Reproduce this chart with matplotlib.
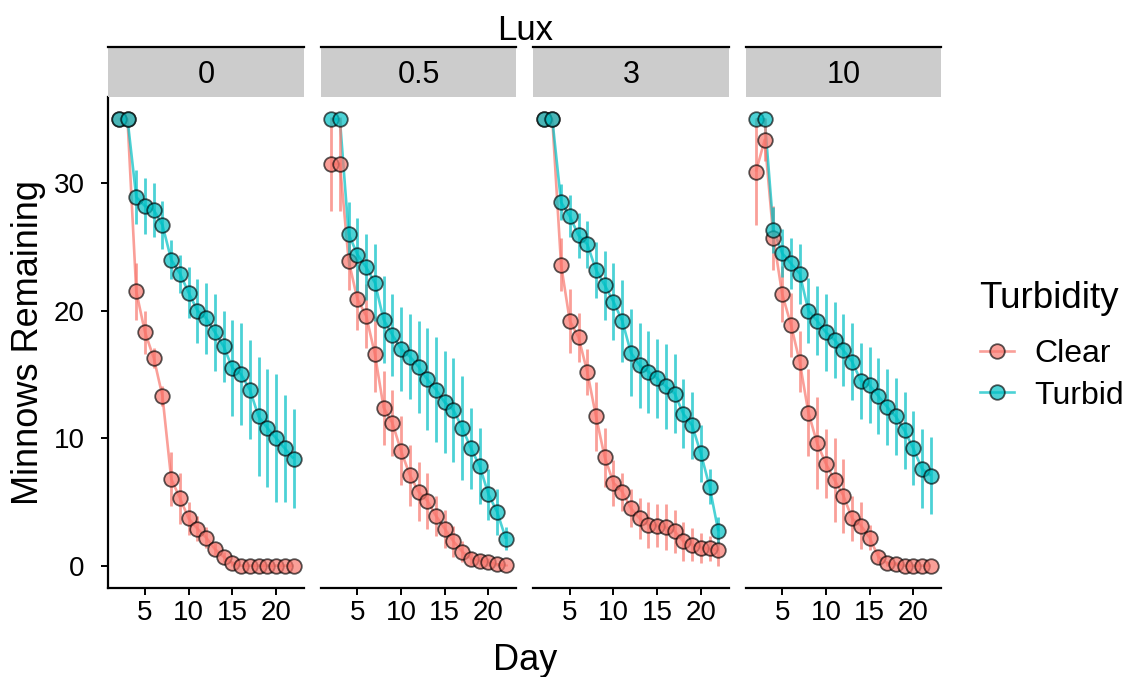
import matplotlib
matplotlib.use('Agg')
import matplotlib.pyplot as plt
from matplotlib.lines import Line2D
from matplotlib.colors import to_rgba

plt.rcParams['font.family'] = ['Liberation Sans', 'DejaVu Sans']

# ---------------- data ----------------
days = list(range(2, 23))
lux_levels = ['0', '0.5', '3', '10']
turbidity = ['Clear', 'Turbid']

clear_0 = [35, 35, 21.5, 18.3, 16.3, 13.3, 6.8, 5.3, 3.7, 2.9, 2.2, 1.3, 0.7, 0.2, 0, 0, 0, 0, 0, 0, 0]
clear_0_se = [0, 0, 2.2, 1.7, 0.8, 0.8, 2.1, 2.0, 1.3, 1.0, 0.8, 0.5, 0.4, 0.2, 0, 0, 0, 0, 0, 0, 0]
turbid_0 = [35, 35, 28.9, 28.2, 27.9, 26.7, 24.0, 22.9, 21.4, 20.0, 19.4, 18.3, 17.2, 15.5, 15.0, 13.8, 11.7, 10.8, 10.0, 9.2, 8.4]
turbid_0_se = [0, 0, 2.1, 2.2, 2.1, 1.9, 1.5, 1.5, 2.0, 2.5, 2.8, 3.0, 2.8, 3.8, 4.0, 3.9, 4.7, 4.6, 5.0, 4.2, 3.9]

clear_05 = [31.5, 31.5, 23.9, 20.9, 19.6, 16.6, 12.4, 11.2, 9.0, 7.1, 5.8, 5.1, 3.9, 2.9, 1.9, 1.1, 0.55, 0.4, 0.3, 0.1, 0.05]
clear_05_se = [3.7, 3.7, 2.3, 2.4, 2.5, 3.0, 2.9, 2.6, 2.7, 2.4, 2.3, 2.2, 1.6, 1.5, 1.2, 0.8, 0.5, 0.4, 0.3, 0.1, 0.05]
turbid_05 = [35, 35, 26.0, 24.4, 23.4, 22.2, 19.3, 18.1, 17.0, 16.4, 15.6, 14.6, 13.8, 12.8, 12.2, 10.8, 9.2, 7.8, 5.6, 4.2, 2.1]
turbid_05_se = [0, 0, 2.5, 2.9, 2.6, 3.0, 3.4, 3.2, 3.3, 3.3, 3.6, 4.0, 4.1, 4.0, 4.1, 4.1, 3.2, 3.0, 2.0, 1.8, 0.9]

clear_3 = [35, 35, 23.6, 19.2, 17.9, 15.2, 11.7, 8.5, 6.5, 5.8, 4.5, 3.7, 3.2, 3.15, 3.0, 2.7, 1.9, 1.65, 1.4, 1.35, 1.2]
clear_3_se = [0, 0, 2.1, 2.5, 1.9, 1.8, 2.7, 2.3, 1.8, 1.5, 1.5, 1.6, 1.8, 1.7, 1.8, 1.7, 1.5, 1.3, 1.2, 1.0, 1.2]
turbid_3 = [35, 35, 28.5, 27.4, 25.9, 25.2, 23.2, 22.0, 20.7, 19.2, 16.7, 15.7, 15.2, 14.7, 14.05, 13.5, 11.9, 11.0, 8.8, 6.2, 2.7]
turbid_3_se = [0, 0, 1.4, 1.65, 1.75, 1.85, 2.2, 2.7, 3.0, 3.2, 3.4, 3.3, 3.2, 3.1, 3.3, 3.1, 2.7, 2.6, 2.2, 1.4, 1.1]

clear_10 = [30.9, 33.4, 25.7, 21.3, 18.9, 16.0, 12.0, 9.6, 8.0, 6.7, 5.5, 3.7, 3.15, 2.2, 0.7, 0.2, 0.15, 0, 0, 0, 0]
clear_10_se = [4.2, 1.7, 2.5, 2.2, 2.5, 2.4, 3.4, 3.6, 2.7, 3.3, 2.9, 1.8, 1.85, 1.0, 0.5, 0.2, 0.15, 0, 0, 0, 0]
turbid_10 = [35, 35, 26.35, 24.5, 23.7, 22.9, 20.0, 19.2, 18.3, 17.7, 16.9, 16.0, 14.5, 14.15, 13.3, 12.45, 11.7, 10.6, 9.2, 7.6, 7.06]
turbid_10_se = [0, 0, 1.8, 1.9, 2.0, 2.35, 2.55, 2.7, 3.0, 3.0, 2.8, 3.0, 3.0, 3.0, 3.0, 3.0, 3.0, 3.0, 2.9, 3.1, 3.0]

x_ticks = [5, 10, 15, 20]
y_ticks = [0, 10, 20, 30]

means = {
    '0': (clear_0, turbid_0), '0.5': (clear_05, turbid_05),
    '3': (clear_3, turbid_3), '10': (clear_10, turbid_10),
}
ses = {
    '0': (clear_0_se, turbid_0_se), '0.5': (clear_05_se, turbid_05_se),
    '3': (clear_3_se, turbid_3_se), '10': (clear_10_se, turbid_10_se),
}

colors = {'Clear': '#F8766D', 'Turbid': '#00BFC4'}
ALPHA = 0.7

# ---------------- layout ----------------
W, H = 1130, 677
fig = plt.figure(figsize=(W / 100, H / 100), dpi=100)

def fx(px):
    return px / W

def fy(py):
    return 1 - py / H

lefts = [108.3, 320.7, 533.1, 745.5]
pw = 195.7
top_px, bot_px = 97, 588
strip_top = 47

for i, lux in enumerate(lux_levels):
    ax = fig.add_axes([fx(lefts[i]), fy(bot_px), pw / W, (bot_px - top_px) / H])
    series = means[lux]
    errs = ses[lux]
    # lines
    for k, t in enumerate(turbidity):
        ax.plot(days, series[k], color=to_rgba(colors[t], ALPHA), lw=1.9,
                zorder=1, solid_capstyle='butt')
    # error bars
    for k, t in enumerate(turbidity):
        ax.errorbar(days, series[k], yerr=errs[k], fmt='none',
                    ecolor=to_rgba(colors[t], ALPHA), elinewidth=2.0,
                    capsize=0, zorder=2)
    # points
    for k, t in enumerate(turbidity):
        ax.scatter(days, series[k], s=110, facecolor=to_rgba(colors[t], ALPHA),
                   edgecolor=(0, 0, 0, 0.65), linewidths=1.3, zorder=3)

    ax.set_xlim(0.8, 23.2)
    ax.set_ylim(-1.75, 36.75)
    ax.set_xticks(x_ticks)
    ax.set_xticklabels([str(v) for v in x_ticks])
    ax.spines['top'].set_visible(False)
    ax.spines['right'].set_visible(False)
    ax.spines['bottom'].set_linewidth(1.6)
    ax.tick_params(axis='x', direction='out', length=5, width=1.4,
                   labelsize=20, pad=4, colors='black')
    if i == 0:
        ax.set_yticks(y_ticks)
        ax.set_yticklabels([str(v) for v in y_ticks])
        ax.spines['left'].set_linewidth(1.6)
        ax.tick_params(axis='y', direction='out', length=5, width=1.4,
                       labelsize=20, pad=12, colors='black')
    else:
        ax.spines['left'].set_visible(False)
        ax.set_yticks([])
    ax.patch.set_alpha(0)

    # strip
    sax = fig.add_axes([fx(lefts[i]), fy(top_px), pw / W, (top_px - strip_top) / H])
    sax.set_facecolor('#CCCCCC')
    sax.set_xticks([])
    sax.set_yticks([])
    for s in ['left', 'right', 'bottom']:
        sax.spines[s].set_visible(False)
    sax.spines['top'].set_linewidth(1.6)
    sax.spines['top'].set_color('black')
    sax.text(0.5, (top_px - 83.3) / (top_px - strip_top), lux, ha='center',
             va='baseline', fontsize=22, transform=sax.transAxes)

# titles
fig.text(fx(524.7), fy(40.5), 'Lux', ha='center', va='baseline', fontsize=25)
fig.text(fx(524.7), fy(670), 'Day', ha='center', va='baseline', fontsize=26)
fig.text(fx(28.5), fy(342.5), 'Minnows Remaining', ha='center', va='center',
         rotation=90, fontsize=26)

# legend
fig.text(fx(979), fy(307.5), 'Turbidity', ha='left', va='baseline', fontsize=26.5)
handles = [
    Line2D([0], [0], color=to_rgba(colors[t], ALPHA), lw=1.9, marker='o',
           markersize=10.5, markerfacecolor=to_rgba(colors[t], ALPHA),
           markeredgecolor=(0, 0, 0, 0.65), markeredgewidth=1.3)
    for t in turbidity
]
fig.legend(handles, turbidity, loc='upper left',
           bbox_to_anchor=(fx(980), fy(339)), frameon=False, fontsize=23,
           handlelength=1.05, handletextpad=0.65, labelspacing=0.36,
           borderpad=0, borderaxespad=0)

fig.savefig('out.png', dpi=100)
